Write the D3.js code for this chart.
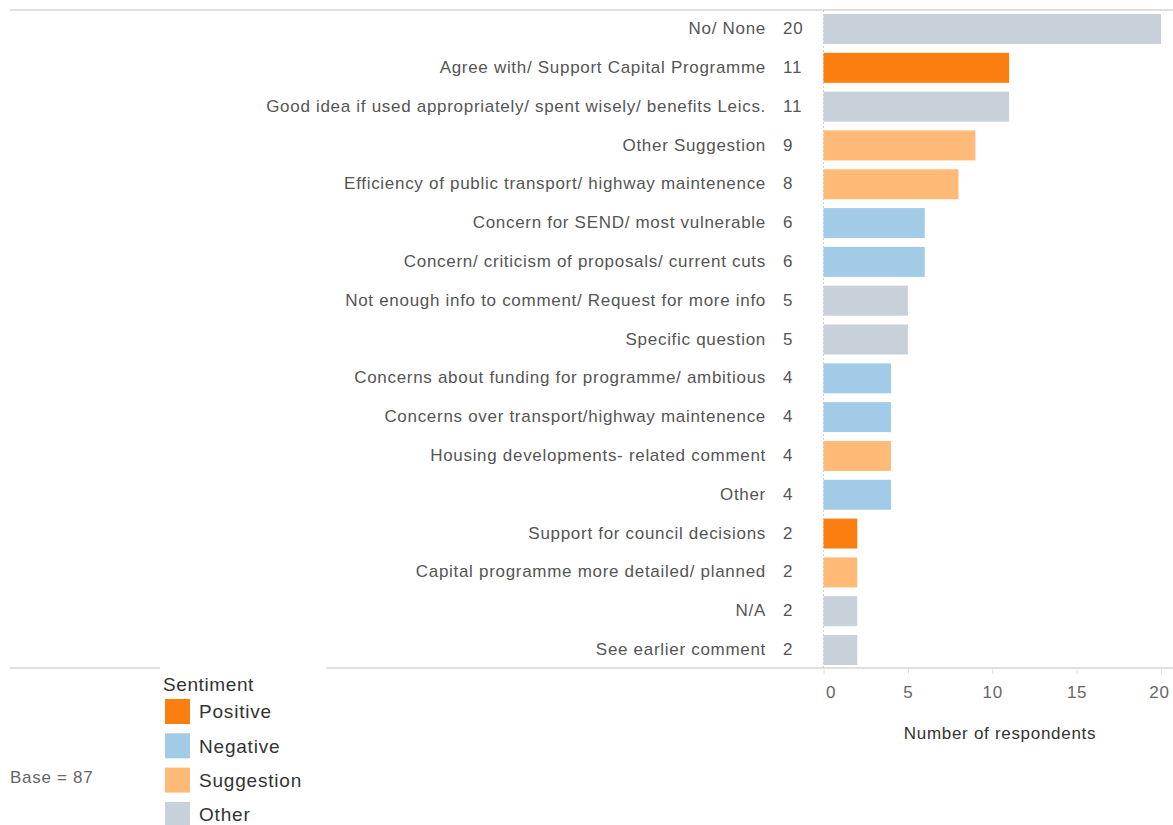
<!DOCTYPE html>
<html><head><meta charset="utf-8">
<script src="https://cdn.jsdelivr.net/npm/d3@7"></script>
<style>
body{margin:0;background:#fff;}
text{font-family:"Liberation Sans",Arial,sans-serif;}
</style></head>
<body><svg id="c" width="1173" height="825"></svg>
<script>
const categories = ["No/ None","Agree with/ Support Capital Programme","Good idea if used appropriately/ spent wisely/ benefits Leics.","Other Suggestion","Efficiency of public transport/ highway maintenence","Concern for SEND/ most vulnerable","Concern/ criticism of proposals/ current cuts","Not enough info to comment/ Request for more info","Specific question","Concerns about funding for programme/ ambitious","Concerns over transport/highway maintenence","Housing developments- related comment","Other","Support for council decisions","Capital programme more detailed/ planned","N/A","See earlier comment"];
const values = [20,11,11,9,8,6,6,5,5,4,4,4,4,2,2,2,2];
const sentiments = ["Other","Positive","Other","Suggestion","Suggestion","Negative","Negative","Other","Other","Negative","Negative","Suggestion","Negative","Positive","Suggestion","Other","Other"];
const legendKeys = ["Positive","Negative","Suggestion","Other"];
const legendColors = ["#FA7F10","#A2CBE8","#FFBA78","#C8D0D9"];
const xTicks = [0,5,10,15,20];

const svg = d3.select("#c");
const x = d3.scaleLinear().domain([0,20]).range([823.5,1161]);
const y = d3.scaleBand().domain(categories).range([10,669]).paddingInner(0.227).paddingOuter(0.103);
const color = d3.scaleOrdinal().domain(legendKeys).range(legendColors);
const LS = "0.7px";

svg.append("line").attr("x1",10).attr("x2",1173).attr("y1",10).attr("y2",10).attr("stroke","#d4d4d4").attr("stroke-width",1.5);
svg.append("line").attr("x1",10).attr("x2",160).attr("y1",668).attr("y2",668).attr("stroke","#d4d4d4").attr("stroke-width",1.5);
svg.append("line").attr("x1",326).attr("x2",1173).attr("y1",668).attr("y2",668).attr("stroke","#d4d4d4").attr("stroke-width",1.5);
svg.append("line").attr("x1",x(0)).attr("x2",x(0)).attr("y1",10).attr("y2",668).attr("stroke","#cfcfcf").attr("stroke-dasharray","2,2");

svg.selectAll("rect.bar").data(categories).join("rect").attr("class","bar")
  .attr("x",x(0)).attr("y",d=>y(d)).attr("height",y.bandwidth())
  .attr("width",(d,i)=>x(values[i])-x(0)).attr("fill",(d,i)=>color(sentiments[i]));

svg.selectAll("text.cat").data(categories).join("text").attr("class","cat")
  .attr("x",766).attr("y",d=>y(d)+y.bandwidth()/2-1).attr("dy","0.36em")
  .attr("text-anchor","end").attr("font-size",17).attr("letter-spacing",LS).attr("fill","#555").text(d=>d);
svg.selectAll("text.val").data(values).join("text").attr("class","val")
  .attr("x",783).attr("y",(d,i)=>y(categories[i])+y.bandwidth()/2-1).attr("dy","0.36em")
  .attr("font-size",17).attr("letter-spacing",LS).attr("fill","#555").text(d=>d);

const ax = svg.append("g").attr("transform","translate(0,668)")
  .call(d3.axisBottom(x).tickValues(xTicks).tickSize(6).tickPadding(12));
ax.select(".domain").remove();
ax.selectAll(".tick line").attr("stroke","#e0e0e0");
ax.selectAll(".tick text").attr("font-size",17).attr("fill","#666").attr("letter-spacing",LS).attr("font-family","Liberation Sans, Arial, sans-serif")
  .attr("dx",(d,i)=> i===0?7:(i===4?-2:0));
svg.append("text").attr("x",1000).attr("y",739).attr("text-anchor","middle").attr("font-size",17).attr("letter-spacing",LS).attr("fill","#333").text("Number of respondents");

svg.append("text").attr("x",163).attr("y",691).attr("font-size",19).attr("letter-spacing","0.6px").attr("fill","#333").text("Sentiment");
const lg = svg.selectAll("g.lg").data(legendKeys).join("g").attr("class","lg")
  .attr("transform",(d,i)=>`translate(165,${699+i*34.3})`);
lg.append("rect").attr("width",25).attr("height",25).attr("fill",d=>color(d));
lg.append("text").attr("x",34).attr("y",12.5).attr("dy","0.36em").attr("font-size",19).attr("letter-spacing","0.8px").attr("fill","#333").text(d=>d);

svg.append("text").attr("x",10).attr("y",783).attr("font-size",17).attr("letter-spacing",LS).attr("fill","#666").text("Base = 87");
</script></body></html>
